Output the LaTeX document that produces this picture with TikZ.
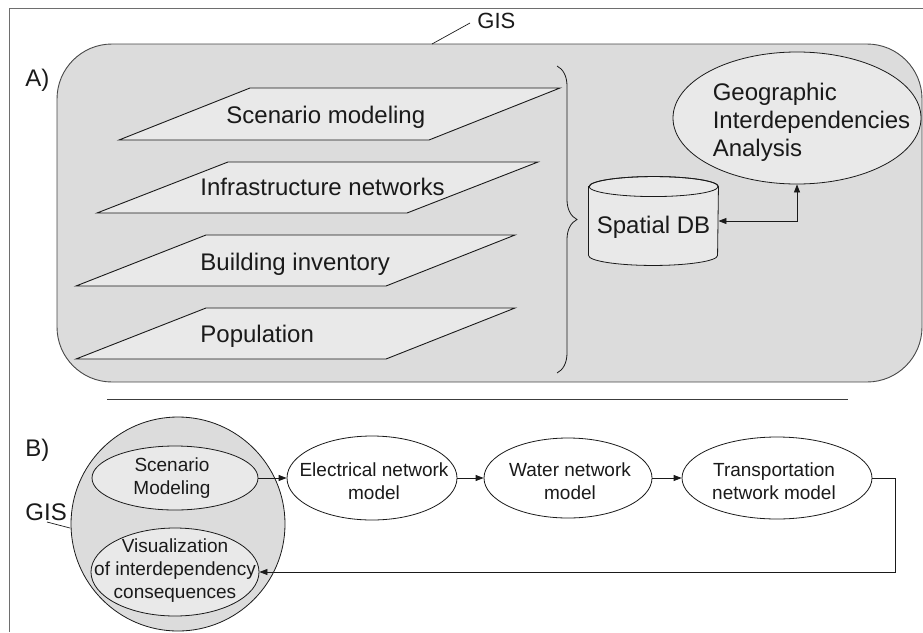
\documentclass[tikz,border=0pt]{standalone}
\usepackage{fontspec}
\setmainfont{Liberation Sans}
\usetikzlibrary{arrows.meta,shapes.geometric,decorations.pathreplacing}

\definecolor{panel}{HTML}{DCDCDC}
\definecolor{paper}{HTML}{E9E9E9}
\definecolor{ink}{HTML}{1A1A1A}
\definecolor{rim}{HTML}{6E6E6E}

\begin{document}
\begin{tikzpicture}[x=1pt,y=-1pt,line width=0.9pt,
  bigtext/.style={font=\fontsize{24}{28}\selectfont, inner sep=0pt, text=ink},
  gistext/.style={font=\fontsize{22}{26}\selectfont, inner sep=0pt, text=ink},
  smalltext/.style={font=\fontsize{19}{23}\selectfont, inner sep=0pt, align=center, text=ink},
  layerbox/.style={draw=ink, fill=paper, line join=miter},
  bubble/.style={ellipse, draw=ink, inner sep=0pt, line width=0.8pt},
  flow/.style={draw=ink, line width=0.8pt, -{Triangle[length=8pt,width=6pt]}},
  leader/.style={draw=ink, line width=0.7pt},
]
\useasboundingbox (0,0) rectangle (923,632);

% page frame (top and left rules)
\draw[rim] (9.5,632) -- (9.5,8.5) -- (923,8.5);

% ---------------- Part A ----------------
\node[draw=ink!80, fill=panel, rounded corners=55pt, minimum width=865, minimum height=338, inner sep=0] (gisA) at (489.5,213) {};
\node[gistext, anchor=base west] (gisAlbl) at (477,28) {GIS};
\coordinate (gisAfoot) at (432,44);
\coordinate (gisAtip) at (470,23);
\draw[leader] (gisAfoot) -- (gisAtip);

\node[bigtext, anchor=base west] (labA) at (25,86) {A)};

% data layers
\draw[layerbox] (250,88) -- (560,88) -- (429,140) -- (119,140) -- cycle;
\draw[layerbox] (228,162) -- (538,162) -- (407,213) -- (97,213) -- cycle;
\draw[layerbox] (206,235) -- (515,235) -- (386,286) -- (76,286) -- cycle;
\draw[layerbox] (206,308) -- (515,308) -- (386,359) -- (76,359) -- cycle;
\node[bigtext, anchor=base west] (lay1) at (226,123) {Scenario modeling};
\node[bigtext, anchor=base west] (lay2) at (200,195) {Infrastructure networks};
\node[bigtext, anchor=base west] (lay3) at (200,270) {Building inventory};
\node[bigtext, anchor=base west] (lay4) at (200,342) {Population};

% brace gathering the layers
\draw[ink, line width=0.8pt, decorate, decoration={brace, amplitude=20pt, aspect=0.5}] (557,66) -- (557,373);

% spatial database cylinder
\node[minimum width=129, minimum height=68, inner sep=0] (db) at (653.5,221) {};
\draw[draw=ink, fill=paper, line width=0.8pt] (db.north west) -- (db.south west)
  arc[start angle=180, end angle=0, x radius=64.5, y radius=10] -- (db.north east)
  arc[start angle=360, end angle=180, x radius=64.5, y radius=10] -- cycle;
\draw[draw=ink, line width=0.8pt] (db.north) ellipse[x radius=64.5, y radius=10];
\node[bigtext, anchor=base] (dblbl) at (653.5,233) {Spatial DB};

% analysis ellipse
\node[bubble, fill=paper, minimum width=248, minimum height=132] (gia) at (797,118) {};
\node[bigtext, align=left] (gialbl) at (811.5,122) {Geographic\\Interdependencies\\Analysis};

\draw[draw=ink, line width=0.8pt, {Triangle[length=8pt,width=6pt]}-{Triangle[length=8pt,width=6pt]}] (db.east) -| (gia.south);

% separator
\coordinate (sepL) at (107,399);
\coordinate (sepR) at (848,399);
\draw[ink!85] (sepL) -- (sepR);

% ---------------- Part B ----------------
\node[bigtext, anchor=base west] (labB) at (25,456) {B)};

\node[circle, draw=ink, fill=panel, minimum size=214, inner sep=0, line width=0.8pt] (gisB) at (178,524) {};
\node[bigtext, anchor=base west] (gisBlbl) at (25,520) {GIS};
\coordinate (gisBfoot) at (47,522);
\coordinate (gisBtip) at (70,528);
\draw[leader] (gisBfoot) -- (gisBtip);

\node[bubble, fill=paper, minimum width=166, minimum height=64] (scen) at (175,478) {};
\node[smalltext] (scenlbl) at (172,478) {Scenario\\Modeling};

\node[bubble, fill=paper, minimum width=168, minimum height=88] (vis) at (175,572) {};
\node[smalltext] (vislbl) at (175,571) {Visualization\\of interdependency\\consequences};

\node[bubble, fill=white, minimum width=170, minimum height=84] (elec) at (372,478) {};
\node[smalltext] (eleclbl) at (374,481) {Electrical network\\model};

\node[bubble, fill=white, minimum width=168, minimum height=80] (water) at (568,478) {};
\node[smalltext] (waterlbl) at (570,481) {Water network\\model};

\node[bubble, fill=white, minimum width=190, minimum height=82] (trans) at (777,478) {};
\node[smalltext] (translbl) at (774,481) {Transportation\\network model};

\draw[flow] (scen.east) -- (elec.west);
\draw[flow] (elec.east) -- (water.west);
\draw[flow] (water.east) -- (trans.west);
\draw[flow] (trans.east) -- ++(23,0) |- (vis.east);

\end{tikzpicture}
\end{document}
